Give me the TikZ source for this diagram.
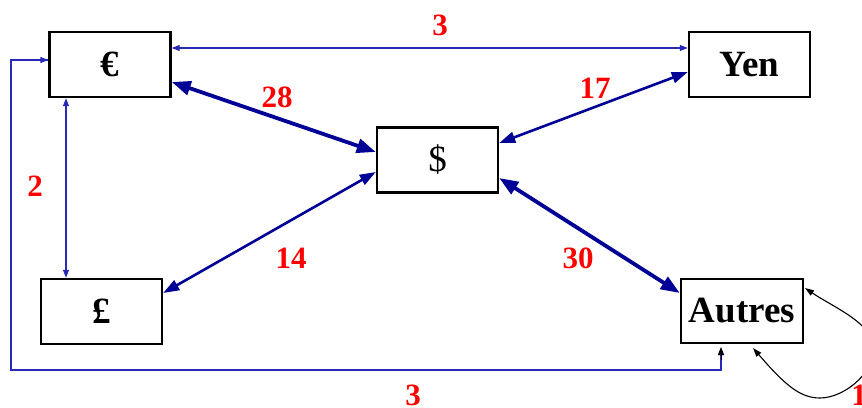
\documentclass[tikz,border=0pt]{standalone}
\usepackage{fontspec}
\setmainfont{Liberation Serif}
\usetikzlibrary{arrows.meta}
\definecolor{navy}{RGB}{0,0,150}
\definecolor{thinblue}{RGB}{40,40,185}
\begin{document}
\begin{tikzpicture}[x=1pt,y=-1pt,
  box/.style={draw=black,line width=2.4pt,fill=white,inner sep=0pt,minimum height=65pt,minimum width=121pt,font=\fontsize{37}{40}\selectfont\bfseries},
  num/.style={text=red,font=\fontsize{31}{34}\selectfont\bfseries,inner sep=0pt},
  thin/.style={draw=thinblue,line width=1.2pt,{Triangle[length=8pt,width=6pt]}-{Triangle[length=8pt,width=6pt]}},
  mid/.style={draw=navy,line width=2.6pt,{Triangle[length=16pt,width=11pt]}-{Triangle[length=16pt,width=11pt]}},
  thick/.style={draw=navy,line width=3.8pt,{Triangle[length=19pt,width=14pt]}-{Triangle[length=19pt,width=14pt]}},
  loop/.style={draw=black,line width=1.1pt,{Triangle[length=9pt,width=6pt]}-{Triangle[length=9pt,width=6pt]}}]
\useasboundingbox (0,0) rectangle (862,407);
\clip (0,0) rectangle (862,407);
\fill[white] (0,0) rectangle (862,407);
\node[box] (eur) at (110,64.5) {€};
\node[box] (yen) at (749.5,64.5) {Yen};
\node[box,font=\fontsize{37}{40}\selectfont] (usd) at (437.5,160) {\$};
\node[box] (gbp) at (101.5,311.5) {£};
\node[box,minimum width=122pt,minimum height=64pt] (aut) at (742,311) {Autres};
% connectors
\draw[thin] ([yshift=16.5pt]eur.east) -- ([yshift=16.5pt]yen.west);
\draw[thick] ([yshift=-17.5pt]eur.east) -- ([yshift=8pt]usd.west);
\draw[mid] ([yshift=-7.5pt]yen.west) -- ([yshift=17pt]usd.east);
\draw[mid] ([yshift=18.5pt]gbp.east) -- ([yshift=-12pt]usd.west);
\draw[thick] ([yshift=-18pt]usd.east) -- ([yshift=18pt]aut.west);
\coordinate (vx) at (66,0);
\draw[thin] (eur.south -| vx) -- (gbp.north -| vx);
\coordinate (ax) at (721,0);
\coordinate (c1) at (721,370);
\coordinate (c2) at (11,370);
\coordinate (c3) at (11,60);
\draw[thin,-{Triangle[length=8pt,width=6pt]},{Triangle[length=8pt,width=6pt]}-] ([yshift=-3pt]aut.south -| ax) -- (c1) -- (c2) -- (c3) -- (eur.west |- c3);
\draw[line width=1.2pt,draw=thinblue,-{Triangle[length=8pt,width=6pt]}] (c3) -- (eur.west |- c3);
\draw[black,line width=1pt,-{Triangle[length=8pt,width=6pt]}] (721,360) -- ([yshift=-3pt]aut.south -| ax);
% self loop
\coordinate (la) at (753,348);
\coordinate (lb) at (805,288);
\coordinate (lbot) at (820,398);
\coordinate (lr) at (872,340);
\draw[loop] (la) .. controls (785,385) and (800,398) .. (lbot) .. controls (845,398) and (880,370) .. (lr) .. controls (865,320) and (830,305) .. (lb);
% labels
\node[num] at (440,25) {3};
\node[num] at (277,97) {28};
\node[num] at (595,88) {17};
\node[num] at (35,186) {2};
\node[num] at (291,258) {14};
\node[num] at (578,258) {30};
\node[num] at (413,395) {3};
\node[num] at (859,395) {1};
\end{tikzpicture}
\end{document}
